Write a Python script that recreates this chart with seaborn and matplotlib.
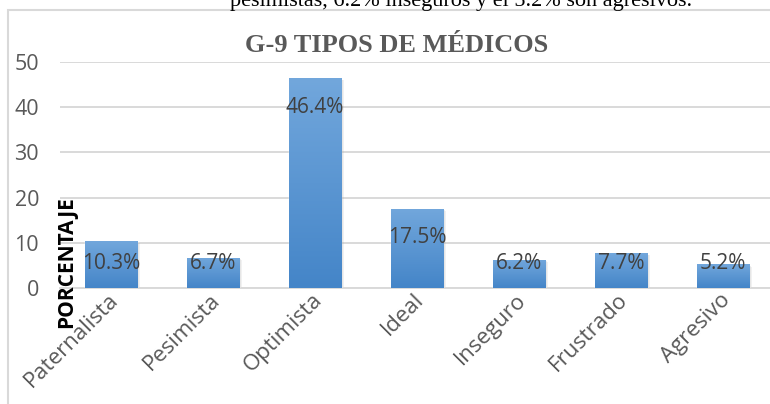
import numpy as np
import pandas as pd
import matplotlib
matplotlib.use('Agg')
import matplotlib.pyplot as plt
import matplotlib.transforms as mtransforms
from matplotlib.patches import Rectangle
import seaborn as sns

# data
categories = ['Paternalista', 'Pesimista', 'Optimista', 'Ideal', 'Inseguro', 'Frustrado', 'Agresivo']
percentages = [10.3, 6.7, 46.4, 17.5, 6.2, 7.7, 5.2]
value_labels = ['10.3%', '6.7%', '46.4%', '17.5%', '6.2%', '7.7%', '5.2%']
y_ticks = [0, 10, 20, 30, 40, 50]

df = pd.DataFrame({'tipo': categories, 'pct': percentages})

sns.set_style('white')
plt.rcParams['font.family'] = ['Open Sans', 'DejaVu Sans']

W, H = 770, 404
fig = plt.figure(figsize=(W / 100, H / 100), dpi=100)

# plot area in pixels: x 60..774, y 62..288
ax = fig.add_axes([60 / W, 1 - 288 / H, 714 / W, 226 / H])

sns.barplot(data=df, x='tipo', y='pct', color='#5b9bd5', width=0.51,
            saturation=1, ax=ax, zorder=3)

ax.set_ylim(0, 50)
ax.set_yticks(y_ticks)
ax.yaxis.grid(True, color='#d9d9d9', linewidth=1.4, zorder=0)
ax.set_axisbelow(True)
for side in ['left', 'right', 'top']:
    ax.spines[side].set_visible(False)
ax.spines['bottom'].set_color('#d9d9d9')
ax.spines['bottom'].set_linewidth(1.4)
ax.tick_params(axis='both', length=0, labelsize=15.5, colors='#595959')
ax.tick_params(axis='y', pad=15)
ax.set_xlabel('')
ax.set_ylabel('')

# gradient fill + soft shadow on each bar
grad = np.linspace(0, 1, 256).reshape(-1, 1)
cmap = matplotlib.colors.LinearSegmentedColormap.from_list('bar', ['#4485c8', '#72a7dc'])
for p in ax.patches:
    x0, w, h = p.get_x(), p.get_width(), p.get_height()
    for k, a in [(3, 0.10), (2, 0.15), (1, 0.22)]:
        sh = Rectangle((x0 + 0.004 * k, -0.35 * k), w + 0.006 * k, h + 0.2 * k,
                       facecolor='#7f7f7f', edgecolor='none', alpha=a, zorder=2)
        ax.add_patch(sh)
    im = ax.imshow(grad, cmap=cmap, aspect='auto', origin='lower',
                   extent=[x0, x0 + w, 0, h], zorder=3.5)
    im.set_clip_path(p)

# value labels near the inner top of the bars
for i, (v, lab) in enumerate(zip(percentages, value_labels)):
    ax.text(i, max(v - 6.4, 5.5), lab, ha='center', va='center',
            fontsize=15, color='#404040', zorder=5)

# rotated category labels
offset = mtransforms.ScaledTranslation(4 / 100, -4 / 100, fig.dpi_scale_trans)
for lbl in ax.get_xticklabels():
    lbl.set_rotation(45)
    lbl.set_ha('right')
    lbl.set_va('center')
    lbl.set_rotation_mode('anchor')
    lbl.set_fontsize(16)
    lbl.set_transform(lbl.get_transform() + offset)

ax.set_xlim(-0.5, len(categories) - 0.5)

# chart border
fig.patches.append(Rectangle((8 / W, -0.1), 2, 1 - 10 / H + 0.1, transform=fig.transFigure,
                             facecolor='none', edgecolor='#d9d9d9', linewidth=1.5, zorder=0))

fig.text(397 / W, 1 - 46 / H, 'G-9 TIPOS DE MÉDICOS', ha='center', va='center',
         fontsize=19, fontweight='bold', color='#595959', family='Liberation Serif')

fig.text(67 / W, 1 - 262 / H, 'PORCENTAJE', rotation=90, ha='center', va='center',
         fontsize=15, fontweight='bold', color='black', zorder=6)

fig.text(461 / W, 1 - 6 / H, 'pesimistas, 6.2% inseguros y el 5.2% son agresivos.',
         ha='center', va='baseline', fontsize=16, color='black', family='Liberation Serif')

fig.savefig('out.png', dpi=100)
